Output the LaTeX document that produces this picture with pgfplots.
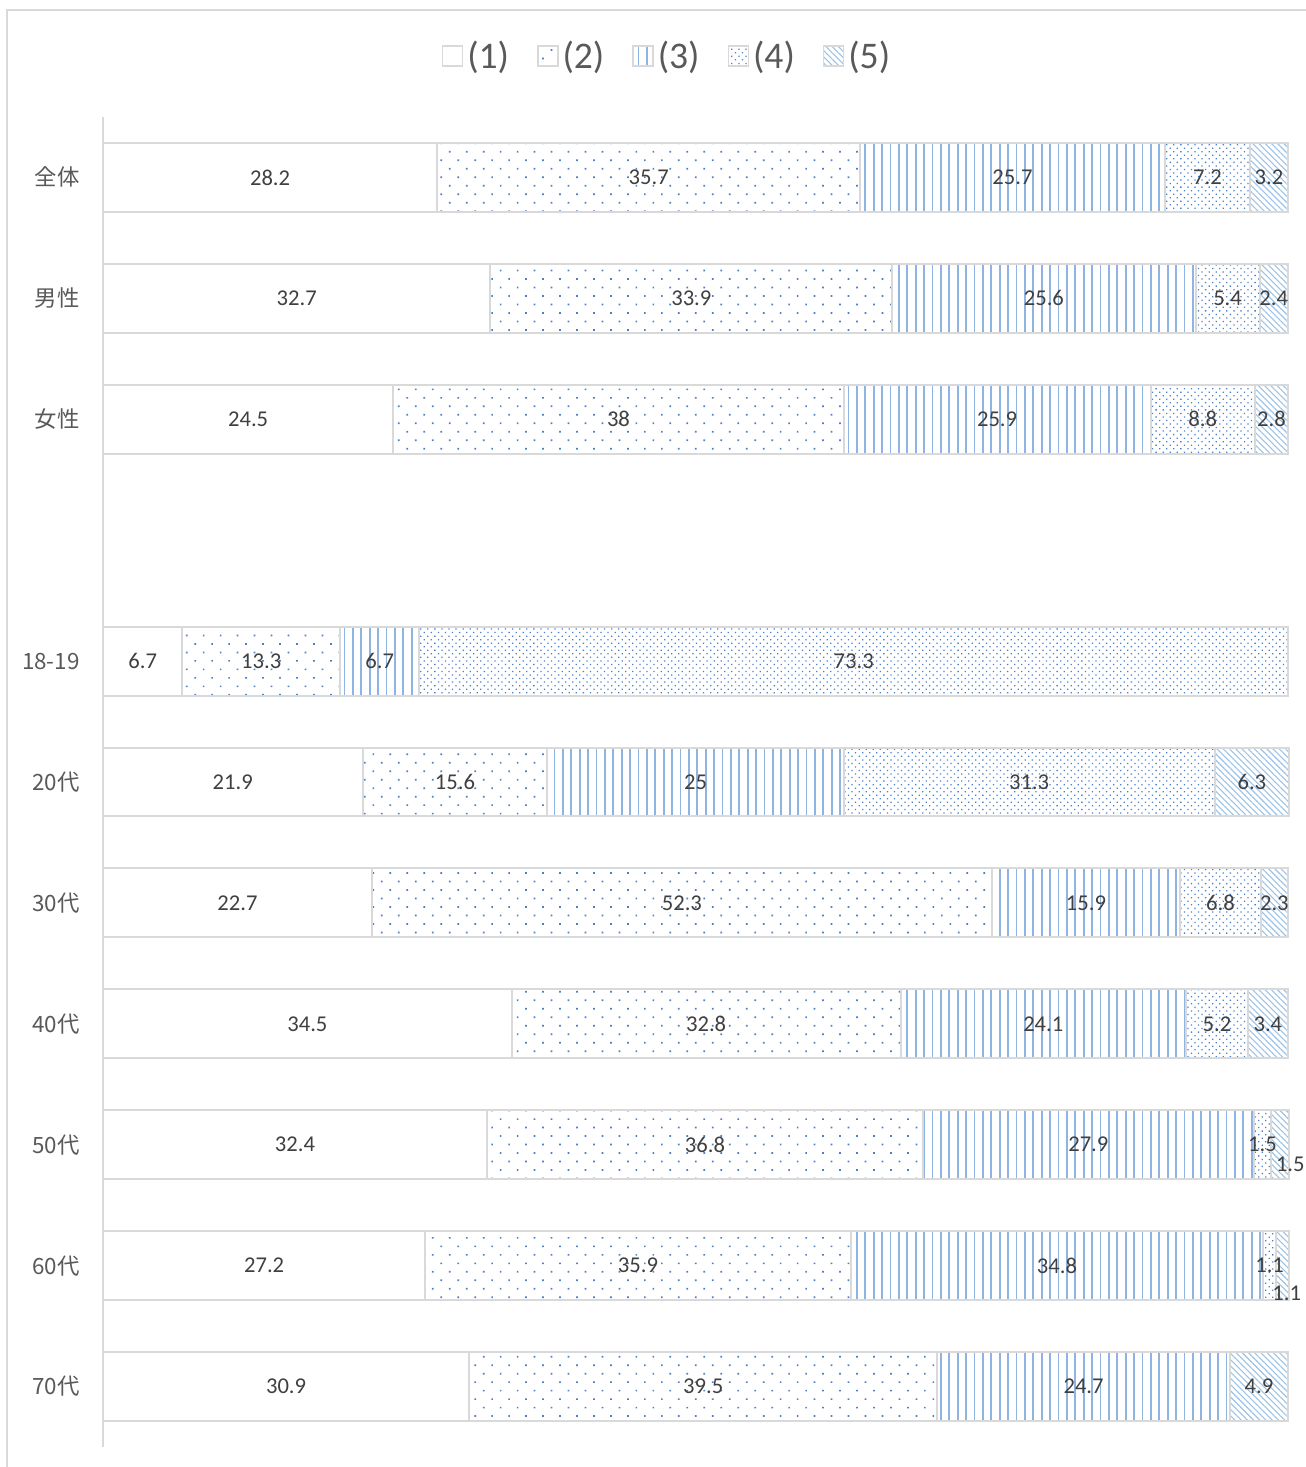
\documentclass[border=0pt]{standalone}
\usepackage{fontspec}
\setmainfont{Carlito}
\newfontfamily\jp{Noto Sans CJK JP}
\usepackage{pgfplots}
\pgfplotsset{compat=1.18}
\usepackage{pgfplotstable}
\usetikzlibrary{patterns.meta}

\definecolor{lgray}{HTML}{D9D9D9}
\definecolor{txt}{HTML}{404040}
\definecolor{leg}{HTML}{595959}
\definecolor{dotA}{HTML}{4A80C8}
\definecolor{lineB}{HTML}{8DB4E2}
\definecolor{dotC}{HTML}{4A80C8}
\definecolor{lineD}{HTML}{9DC3E6}

% y: row position (10 = top), a..e: the five answers, dx/dy: label offsets (pt)
\pgfplotstableread{
y  a    b    c    d    e   dx  dy
10 28.2 35.7 25.7 7.2  3.2 0   0
9  32.7 33.9 25.6 5.4  2.4 0   0
8  24.5 38   25.9 8.8  2.8 0   0
6  6.7  13.3 6.7  73.3 0   0   0
5  21.9 15.6 25   31.3 6.3 0   0
4  22.7 52.3 15.9 6.8  2.3 0   0
3  34.5 32.8 24.1 5.2  3.4 0   0
2  32.4 36.8 27.9 1.5  1.5 5   -10
1  27.2 35.9 34.8 1.1  1.1 2   -14
0  30.9 39.5 24.7 0    4.9 0   0
}\data
% label positions: middle of each segment
\pgfplotstablecreatecol[create col/expr={\thisrow{a}/2}]{ma}{\data}
\pgfplotstablecreatecol[create col/expr={\thisrow{a}+\thisrow{b}/2}]{mb}{\data}
\pgfplotstablecreatecol[create col/expr={\thisrow{a}+\thisrow{b}+\thisrow{c}/2}]{mc}{\data}
\pgfplotstablecreatecol[create col/expr={\thisrow{a}+\thisrow{b}+\thisrow{c}+\thisrow{d}/2}]{md}{\data}
\pgfplotstablecreatecol[create col/expr={\thisrow{a}+\thisrow{b}+\thisrow{c}+\thisrow{d}+\thisrow{e}/2}]{me}{\data}

\pgfplotsset{
  frame/.style={
    scale only axis,
    width=592.5pt, height=665pt,
    xmin=0, xmax=100,
    ymin=-0.5, ymax=10.5,
    clip=false,
  },
  seg/.style={draw=lgray, line width=1pt, fill=white},
  lab/.style={only marks, mark=*, mark size=0pt, mark options={draw=none, fill=none},
    point meta=explicit,
    nodes near coords={\pgfmathfloatifflags{\pgfplotspointmeta}{0}{}{\pgfmathprintnumber[assume math mode=true]{\pgfplotspointmeta}}},
    nodes near coords style={anchor=center, inner sep=0pt,
      font=\fontsize{11.3}{13}\selectfont, text=txt}},
}

\begin{document}
\begin{tikzpicture}
\useasboundingbox (-51.5pt,-10pt) rectangle (601.5pt,723.5pt);
\begin{axis}[
    frame,
    hide x axis,
    axis y line*=left,
    y axis line style={-, draw=lgray, line width=1pt},
    ytick={0,1,2,3,4,5,6,8,9,10},
    yticklabels={70代,60代,50代,40代,30代,20代,18-19,女性,男性,全体},
    major tick length=0pt,
    yticklabel style={font=\jp\fontsize{11.2}{13}\selectfont, text=leg, inner sep=0pt, xshift=-11.5pt},
    xbar stacked,
    bar width=0.57,
    legend columns=5,
    legend style={draw=none, fill=none, at={(0.4768,1.0459)}, anchor=center,
      font=\fontsize{18.8}{20}\selectfont, text=leg,
      /tikz/every even column/.append style={column sep=12pt}},
    legend image code/.code={\draw[#1, draw=lgray, line width=0.7pt] (0pt,-5pt) rectangle (10pt,5pt);},
]
\addplot[seg] table[x=a, y=y] {\data};
\addplot[seg,
  postaction={pattern={Dots[distance=6pt, angle=45, radius=0.6pt]}, pattern color=dotA}]
  table[x=b, y=y] {\data};
\addplot[seg,
  postaction={pattern={Lines[distance=4.2pt, angle=90, line width=0.9pt]}, pattern color=lineB}]
  table[x=c, y=y] {\data};
\addplot[seg,
  postaction={pattern={Dots[distance=2.5pt, angle=45, radius=0.45pt]}, pattern color=dotC}]
  table[x=d, y=y] {\data};
\addplot[seg,
  postaction={pattern={Lines[distance=2.2pt, angle=-45, line width=0.55pt]}, pattern color=lineD}]
  table[x=e, y=y] {\data};
\legend{(1),(2),(3),(4),(5)}
\end{axis}
\begin{axis}[frame, hide axis]
\addplot[lab] table[x=ma, y=y, meta=a] {\data};
\addplot[lab] table[x=mb, y=y, meta=b] {\data};
\addplot[lab] table[x=mc, y=y, meta=c] {\data};
\addplot[lab] table[x=md, y=y, meta=d] {\data};
\addplot[lab,
  visualization depends on={\thisrow{dx} \as \ex},
  visualization depends on={\thisrow{dy} \as \ey},
  nodes near coords style={xshift=\ex, yshift=\ey}]
  table[x=me, y=y, meta=e] {\data};
\end{axis}
\draw[lgray, line width=0.6pt] (-48pt,-10pt) -- (-48pt,718.5pt) -- (601.5pt,718.5pt);
\end{tikzpicture}
\end{document}
